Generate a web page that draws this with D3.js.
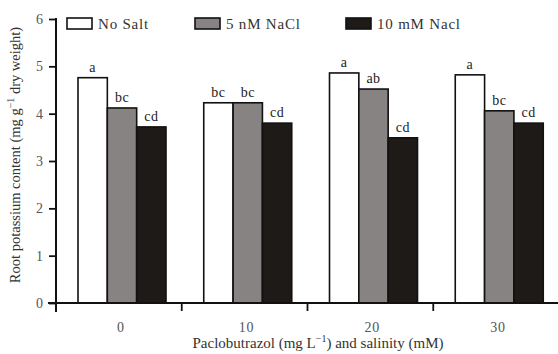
<!DOCTYPE html>
<html>
<head>
<meta charset="utf-8">
<script src="https://cdn.jsdelivr.net/npm/d3@7"></script>
<style>
  body { margin: 0; background: #fff; }
  text { font-family: "Liberation Serif", "DejaVu Serif", serif; }
</style>
</head>
<body>
<div id="vis"></div>
<script>
// Frame and margins
const FRAME_WIDTH = 558;
const FRAME_HEIGHT = 354;
const MARGINS = {left: 56, right: 0, top: 19, bottom: 51};
const VIS_WIDTH = FRAME_WIDTH - MARGINS.left - MARGINS.right;
const VIS_HEIGHT = FRAME_HEIGHT - MARGINS.top - MARGINS.bottom;

// Data
const groups = ["0", "10", "20", "30"];
const series = ["No Salt", "5 nM NaCl", "10 mM Nacl"];
const noSalt = [4.76, 4.23, 4.86, 4.82];
const nacl5 = [4.12, 4.23, 4.52, 4.06];
const nacl10 = [3.72, 3.80, 3.49, 3.80];
const lettersNoSalt = ["a", "bc", "a", "a"];
const letters5 = ["bc", "bc", "ab", "bc"];
const letters10 = ["cd", "cd", "cd", "cd"];
const yTicks = [0, 1, 2, 3, 4, 5, 6];

const values = [noSalt, nacl5, nacl10];
const letters = [lettersNoSalt, letters5, letters10];
const colors = ["#ffffff", "#878383", "#1e1a17"];

const FRAME = d3.select("#vis")
  .append("svg")
    .attr("width", FRAME_WIDTH)
    .attr("height", FRAME_HEIGHT);

const g = FRAME.append("g")
  .attr("transform", "translate(" + MARGINS.left + "," + MARGINS.top + ")");

// Scales
const Y_SCALE = d3.scaleLinear().domain([0, 6]).range([VIS_HEIGHT, 0]);
const X_SCALE = d3.scaleBand().domain(groups).range([0, VIS_WIDTH + 1]);
const X_SUB = d3.scaleBand().domain([0, 1, 2])
  .range([22, 22 + 88]);

// Bars
series.forEach((s, i) => {
  const bars = g.append("g");
  bars.selectAll("rect")
    .data(values[i])
    .enter()
    .append("rect")
      .attr("x", (d, j) => X_SCALE(groups[j]) + X_SUB(i))
      .attr("y", (d) => Y_SCALE(d))
      .attr("width", X_SUB.bandwidth())
      .attr("height", (d) => Y_SCALE(0) - Y_SCALE(d))
      .attr("fill", colors[i])
      .attr("stroke", "#111")
      .attr("stroke-width", 1.6);

  bars.selectAll("text")
    .data(values[i])
    .enter()
    .append("text")
      .attr("x", (d, j) => X_SCALE(groups[j]) + X_SUB(i) + X_SUB.bandwidth() / 2)
      .attr("y", (d) => Y_SCALE(d) - 6)
      .attr("text-anchor", "middle")
      .style("font-size", "14px")
      .style("letter-spacing", "0.5px")
      .attr("fill", "#222")
      .text((d, j) => letters[i][j]);
});

// Y axis
const yAxis = g.append("g")
  .call(d3.axisLeft(Y_SCALE).tickValues(yTicks).tickFormat(d3.format("d"))
    .tickSize(7).tickPadding(6));
yAxis.select(".domain").remove();
yAxis.selectAll(".tick line").attr("stroke", "#111").attr("stroke-width", 1.8);
yAxis.selectAll(".tick text").attr("fill", "#555").style("font-size", "14px")
  .style("font-family", "'Liberation Serif', serif");
g.append("line")
  .attr("x1", 0).attr("x2", 0)
  .attr("y1", Y_SCALE(6) - 1).attr("y2", VIS_HEIGHT + 9)
  .attr("stroke", "#111").attr("stroke-width", 2);

// X axis: ticks between groups, labels at group centres
g.append("line")
  .attr("x1", -8).attr("x2", VIS_WIDTH)
  .attr("y1", VIS_HEIGHT).attr("y2", VIS_HEIGHT)
  .attr("stroke", "#111").attr("stroke-width", 2);
g.append("g").selectAll("line")
  .data(groups.slice(1))
  .enter()
  .append("line")
    .attr("x1", (d) => X_SCALE(d)).attr("x2", (d) => X_SCALE(d))
    .attr("y1", VIS_HEIGHT).attr("y2", VIS_HEIGHT + 8)
    .attr("stroke", "#111").attr("stroke-width", 1.8);
g.append("g").selectAll("text")
  .data(groups)
  .enter()
  .append("text")
    .attr("x", (d) => X_SCALE(d) + X_SCALE.bandwidth() / 2 + 2)
    .attr("y", VIS_HEIGHT + 29)
    .attr("text-anchor", "middle")
    .attr("fill", "#555")
    .style("font-size", "14px")
    .style("letter-spacing", "0.8px")
    .text((d) => d);

// Axis titles
const xTitle = FRAME.append("text")
  .attr("x", 318)
  .attr("y", 348)
  .attr("text-anchor", "middle")
  .attr("fill", "#333")
  .style("font-size", "15px");
xTitle.append("tspan").text("Paclobutrazol (mg L");
xTitle.append("tspan").attr("dy", -6).style("font-size", "10px").text("\u22121");
xTitle.append("tspan").attr("dy", 6).text(") and salinity (mM)");

const yTitle = FRAME.append("text")
  .attr("transform", "translate(20," + 155 + ") rotate(-90)")
  .attr("text-anchor", "middle")
  .attr("fill", "#333")
  .style("font-size", "14.5px");
yTitle.append("tspan").text("Root potassium content (mg g");
yTitle.append("tspan").attr("dy", -6).style("font-size", "10px").text("\u22121");
yTitle.append("tspan").attr("dy", 6).text(" dry weight)");

// Legend
const legendX = [67, 195, 346];
const legend = FRAME.append("g").selectAll("g")
  .data(series)
  .enter()
  .append("g")
    .attr("transform", (d, i) => "translate(" + legendX[i] + ",18)");
legend.append("rect")
  .attr("width", 25).attr("height", 11)
  .attr("fill", (d, i) => colors[i])
  .attr("stroke", "#111").attr("stroke-width", 1.6);
legend.append("text")
  .attr("x", 31).attr("y", 11)
  .attr("fill", "#333")
  .style("font-size", "15px")
  .style("letter-spacing", "0.8px")
  .text((d) => d);
</script>
</body>
</html>
